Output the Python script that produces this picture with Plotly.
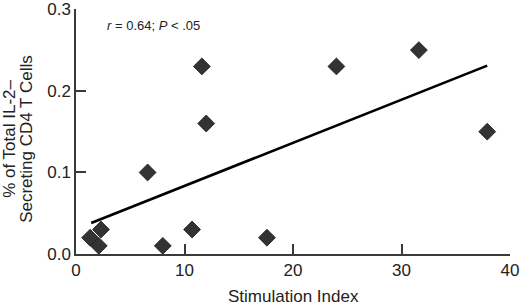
import plotly.graph_objects as go

stim_index = [1.3, 2.1, 2.3, 6.6, 8.0, 10.7, 11.6, 12.0, 17.6, 24.0, 31.6, 37.9]
pct_il2 = [0.02, 0.01, 0.03, 0.10, 0.01, 0.03, 0.23, 0.16, 0.02, 0.23, 0.25, 0.15]
fit_x = [1.4, 37.9]
fit_y = [0.038, 0.231]
x_ticks = [0, 10, 20, 30, 40]
y_ticks = [0.0, 0.1, 0.2, 0.3]
y_tick_text = ["0.0", "0.1", "0.2", "0.3"]

FONT = "Liberation Sans, Arial, Helvetica, sans-serif"
AX = "#3a3a3a"

fig = go.Figure()
fig.add_trace(go.Scatter(x=fit_x, y=fit_y, mode="lines",
                         line=dict(color="#000000", width=2.6), hoverinfo="skip"))
fig.add_trace(go.Scatter(x=stim_index, y=pct_il2, mode="markers",
                         marker=dict(symbol="diamond", size=13, color="#333333",
                                     line=dict(color="#1a1a1a", width=0.8))))

fig.update_layout(
    width=520, height=307,
    margin=dict(l=76, r=10, t=9, b=53),
    paper_bgcolor="white", plot_bgcolor="white",
    showlegend=False,
    font=dict(family=FONT, size=17, color="#222222"),
    xaxis=dict(range=[0, 40], tickvals=x_ticks, ticks="inside", ticklen=10,
               tickwidth=1.5, tickcolor=AX, showline=True, linecolor=AX, linewidth=1.5,
               showgrid=False, zeroline=False, tickfont=dict(size=17), automargin=False),
    yaxis=dict(range=[0, 0.3004], tickvals=y_ticks, ticktext=y_tick_text, ticks="inside",
               ticklen=10, tickwidth=1.5, tickcolor=AX, showline=True, linecolor=AX,
               linewidth=1.5, showgrid=False, zeroline=False, tickfont=dict(size=17),
               automargin=False),
)

fig.add_annotation(text="Stimulation Index", xref="paper", yref="paper",
                   x=0.5, y=(253.7 - 296) / 244.7, xanchor="center", yanchor="middle",
                   showarrow=False, font=dict(size=17))
fig.add_annotation(text="% of Total IL-2–", textangle=-90, xref="paper", yref="paper",
                   x=(10 - 76) / 434, y=0.47, xanchor="center", yanchor="middle",
                   showarrow=False, font=dict(size=17))
fig.add_annotation(text="Secreting CD4 T Cells", textangle=-90, xref="paper", yref="paper",
                   x=(27 - 76) / 434, y=0.47, xanchor="center", yanchor="middle",
                   showarrow=False, font=dict(size=17))
fig.add_annotation(text="<i>r</i> = 0.64; <i>P</i> < .05", xref="paper", yref="paper",
                   x=(105 - 76) / 434, y=(253.7 - 25) / 244.7, xanchor="left", yanchor="middle",
                   showarrow=False, font=dict(size=13))

fig.write_html("out.html", config={"displayModeBar": False},
               post_script="document.body.style.margin='0';document.body.style.overflow='hidden';")
